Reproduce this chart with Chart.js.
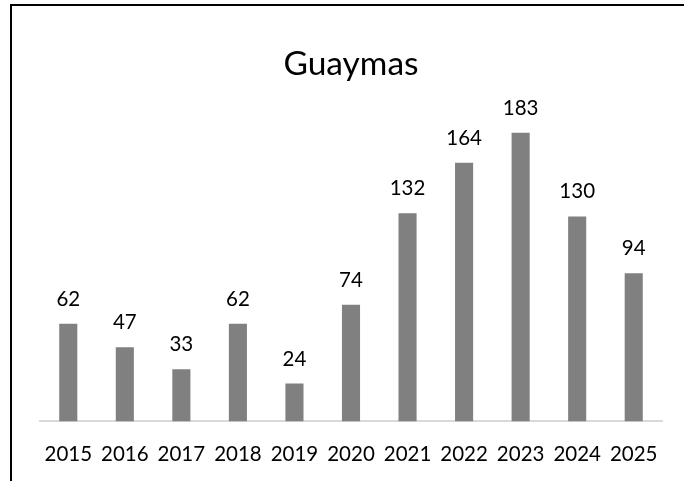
<!DOCTYPE html>
<html lang="es">
<head>
<meta charset="UTF-8">
<script src="https://cdn.jsdelivr.net/npm/chart.js"></script>
<title>Guaymas</title>
<style>
  html, body { margin: 0; padding: 0; background: #fff; overflow: hidden; }
  #frame {
    position: absolute; left: 10px; top: 4px; width: 700px; height: 500px;
    border-top: 2px solid #000; border-left: 2px solid #000;
  }
  #chart { position: absolute; left: 0; top: 0; }
</style>
</head>
<body>
<div id="frame"></div>
<canvas id="chart" width="684" height="488"></canvas>
<script>
const years = ['2015', '2016', '2017', '2018', '2019', '2020', '2021', '2022', '2023', '2024', '2025'];
const counts = [62, 47, 33, 62, 24, 74, 132, 164, 183, 130, 94];
const chartTitle = 'Guaymas';
const FONT = 'Lato, "Open Sans", sans-serif';

// data labels drawn above each bar
const barLabels = {
  id: 'barLabels',
  afterDatasetsDraw(chart) {
    const ctx = chart.ctx;
    const meta = chart.getDatasetMeta(0);
    ctx.save();
    ctx.font = '20.5px ' + FONT;
    ctx.fillStyle = '#000';
    ctx.textAlign = 'center';
    ctx.textBaseline = 'alphabetic';
    meta.data.forEach((bar, i) => {
      ctx.fillText(String(counts[i]), bar.x, bar.y - 18);
    });
    ctx.restore();
  }
};

new Chart(document.getElementById('chart'), {
  type: 'bar',
  data: {
    labels: years,
    datasets: [{
      data: counts,
      backgroundColor: '#808080',
      borderWidth: 0,
      categoryPercentage: 1,
      barPercentage: 0.32
    }]
  },
  options: {
    responsive: false,
    animation: false,
    layout: { padding: { left: 40, right: 22, top: 44, bottom: 0 } },
    plugins: {
      legend: { display: false },
      tooltip: { enabled: false },
      title: {
        display: true,
        text: chartTitle,
        color: '#000',
        font: { family: FONT, size: 33.5, weight: 'normal', lineHeight: 1.2 },
        padding: { top: 0, bottom: 21.8 }
      }
    },
    scales: {
      x: {
        grid: { display: false, drawTicks: false, tickLength: 0 },
        border: { display: true, color: '#d9d9d9', width: 2 },
        ticks: { color: '#000', padding: 21, font: { family: FONT, size: 20.5 }, maxRotation: 0, autoSkip: false }
      },
      y: {
        display: false,
        min: 0,
        max: 200
      }
    }
  },
  plugins: [barLabels]
});
</script>
</body>
</html>
